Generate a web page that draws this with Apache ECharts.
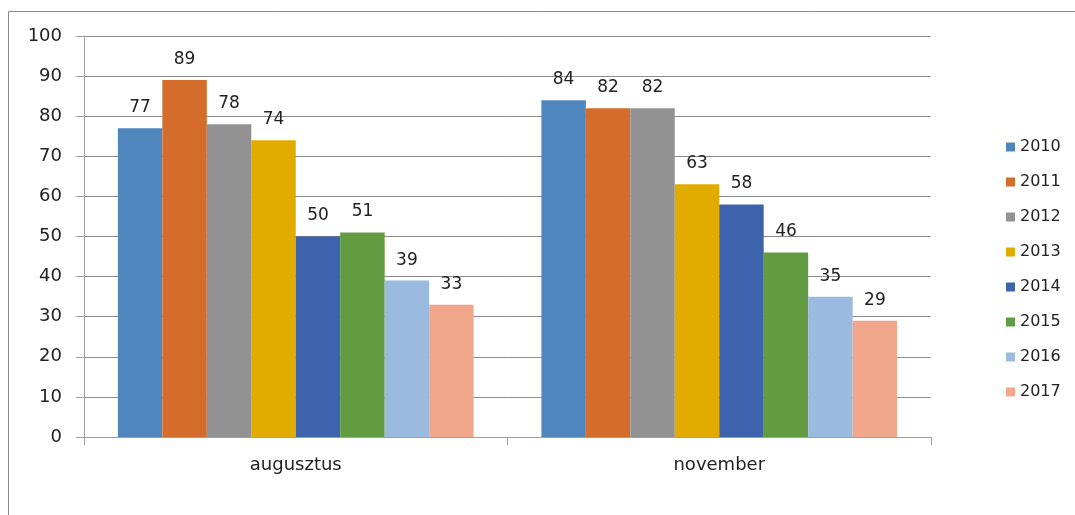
<!DOCTYPE html>
<html><head><meta charset="utf-8">
<script src="https://cdn.jsdelivr.net/npm/echarts@6/dist/echarts.min.js"></script>
<style>html,body{margin:0;padding:0;background:#fff}#c{width:1075px;height:515px}</style>
</head><body><div id="c"></div>
<script>
const categories = ['augusztus', 'november'];
const years = ['2010','2011','2012','2013','2014','2015','2016','2017'];
const values = [
  [77, 84],
  [89, 82],
  [78, 82],
  [74, 63],
  [50, 58],
  [51, 46],
  [39, 35],
  [33, 29]
];
const colors = ['#4F86BE','#D46C2B','#929292','#E2AB00','#3C63AC','#629B41','#9ABAE0','#F1A78A'];
const yTicks = [0,10,20,30,40,50,60,70,80,90,100];

const font = 'DejaVu Sans, sans-serif';
const chart = echarts.init(document.getElementById('c'));
chart.setOption({
  animation: false,
  backgroundColor: '#fff',
  graphic: [
    {type:'line', shape:{x1:8.5,y1:11.5,x2:1075,y2:11.5}, style:{stroke:'#8a8a8a',lineWidth:1}},
    {type:'line', shape:{x1:8.5,y1:11.5,x2:8.5,y2:515}, style:{stroke:'#8a8a8a',lineWidth:1}}
  ],
  grid: {left:84, right:144, top:36, bottom:78},
  legend: {
    orient:'vertical', left:1001, top:134, itemWidth:9, itemHeight:9, itemGap:19,
    icon:'rect', data: years,
    textStyle:{fontFamily:font, fontSize:16, color:'#222'}
  },
  xAxis: {
    type:'category', data: categories,
    axisLine:{lineStyle:{color:'#a0a0a0'}},
    axisTick:{show:true, length:8, lineStyle:{color:'#a0a0a0'}},
    axisLabel:{fontFamily:font, fontSize:18, color:'#222', margin:19}
  },
  yAxis: {
    type:'value', min:0, max:100, interval:10,
    axisLine:{show:true, lineStyle:{color:'#a0a0a0'}},
    axisTick:{show:true, length:8, lineStyle:{color:'#a0a0a0'}},
    splitLine:{lineStyle:{color:'#8c8c8c'}},
    axisLabel:{fontFamily:font, fontSize:18, color:'#222', margin:22,
      formatter: v => yTicks.includes(v) ? String(v) : ''}
  },
  series: years.map((y,i)=>({
    name:y, type:'bar', data: values[i],
    barGap:'0%', barCategoryGap:'16%',
    itemStyle:{color:colors[i]},
    label:{show:true, position:'top', distance:12, fontFamily:font, fontSize:17, color:'#222'}
  }))
});
</script></body></html>
